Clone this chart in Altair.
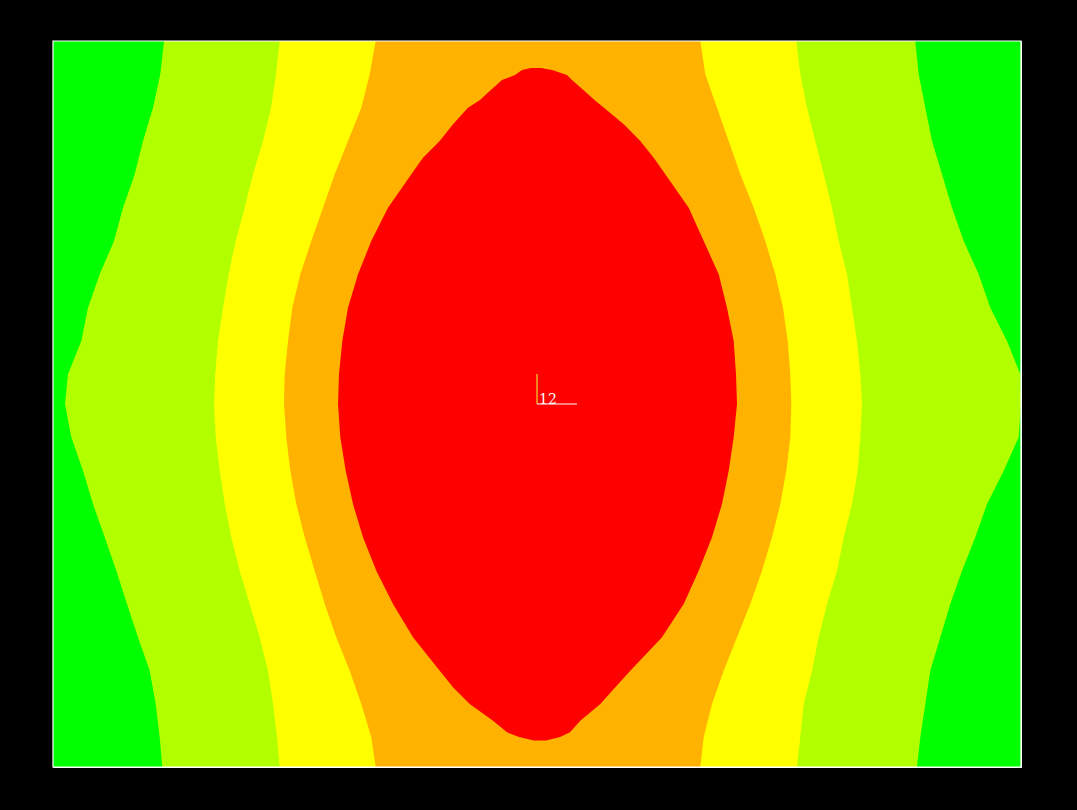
import altair as alt
import pandas as pd

# ---- data (plot-area coordinates: x 0..968 left->right, y 0..726 top->bottom) ----
X_RANGE = [0, 968]
Y_RANGE = [0, 726]

BAND_Y = [0, 33.3, 66.7, 100, 133.3, 166.7, 200, 233.3, 266.7, 300, 333.3, 363,
          396.3, 429.7, 463, 496.3, 529.7, 563, 596.3, 629.7, 663, 696.3, 726]

L1 = [111, 107.3, 100, 90, 81.7, 70, 61, 46.7, 35, 28.3, 15, 12,
      18.3, 30, 40, 51.7, 63.3, 74, 85, 96.7, 102.7, 106.7, 109.3]
R1 = [862.3, 865.7, 872.3, 879, 889, 899, 910.7, 925.7, 937.3, 954, 967.3, 968,
      965.7, 950.7, 934, 922.3, 909, 897.3, 887.3, 877.3, 872.3, 867.3, 864]
L2 = [226.7, 223, 218, 210, 200, 191.7, 182.7, 175.7, 170, 165, 162.3, 161,
      162.7, 166.7, 171.7, 178.3, 186.7, 196.7, 206.7, 215, 220, 224, 226.7]
R2 = [743.3, 747.3, 754, 762.3, 770.7, 779, 785.7, 794, 799, 804, 807.3, 809,
      807.3, 804.7, 799, 790.7, 784, 774, 765.7, 759, 750.7, 747.3, 744]
L3 = [322.7, 316.7, 308.3, 295, 281.7, 270, 258.3, 247.3, 239.3, 235, 231.7, 231,
      233.3, 237.3, 243.3, 251.7, 261.7, 271.7, 283.3, 296.7, 308.3, 318.3, 322.7]
R3 = [647.3, 652.3, 664, 675.7, 687.3, 700.7, 712.3, 722.3, 730, 734.7, 737.3, 738.3,
      737.3, 733.3, 727.3, 719, 709, 697.3, 684, 670.7, 659, 650.7, 647.3]

RED_Y = [27, 29, 34, 39, 50, 59, 66.7, 83.3, 100, 116.7, 133.3, 150, 166.7,
         200, 233.3, 266.7, 300, 333.3, 363, 396.3, 429.7, 463, 496.3, 529.7,
         563, 596.3, 629.7, 646.3, 663, 679.7, 691.3, 696, 699.5]
RED_L = [478, 469, 462, 449, 436.7, 427, 415, 400, 386.7, 370, 358.3, 346.7, 335,
         318.3, 305, 295, 289.3, 286, 285, 287.3, 292.7, 300, 310, 323.3,
         340, 360, 386.7, 400, 416.7, 440, 454, 466, 481]
RED_R = [488, 499, 514, 519, 531.5, 541.5, 551, 570.7, 587.3, 600.7, 612.3, 624, 635.7,
         650.7, 665.7, 674, 680.7, 683, 684, 680.7, 675.7, 669, 659, 645.7,
         630.7, 609, 577.3, 562.3, 547.3, 527.3, 517, 507, 493]

BAND_COLORS = ["#00ff00", "#b2ff00", "#ffff00", "#ffb200", "#ff0000"]

MARK_LABEL = ["12"]
MARK_X = [484]
MARK_Y = [363]
MARK_V_Y2 = [333]
MARK_H_X2 = [524]

# ---- build ----
xs = alt.Scale(domain=X_RANGE, nice=False, zero=False)
ys = alt.Scale(domain=Y_RANGE, nice=False, zero=False, reverse=True)

bands = [
    (pd.DataFrame({"y": Y_RANGE, "xl": [X_RANGE[0]] * 2, "xr": [X_RANGE[1]] * 2}), BAND_COLORS[0]),
    (pd.DataFrame({"y": BAND_Y, "xl": L1, "xr": R1}), BAND_COLORS[1]),
    (pd.DataFrame({"y": BAND_Y, "xl": L2, "xr": R2}), BAND_COLORS[2]),
    (pd.DataFrame({"y": BAND_Y, "xl": L3, "xr": R3}), BAND_COLORS[3]),
    (pd.DataFrame({"y": RED_Y, "xl": RED_L, "xr": RED_R}), BAND_COLORS[4]),
]

layers = []
for df, col in bands:
    layers.append(
        alt.Chart(df).mark_area(orient="horizontal", color=col, interpolate="linear",
                                clip=True, strokeWidth=0)
        .encode(
            y=alt.Y("y:Q", scale=ys, axis=None),
            x=alt.X("xl:Q", scale=xs, axis=None),
            x2="xr:Q",
        )
    )

frame = pd.DataFrame({"x": [X_RANGE[0]], "x2": [X_RANGE[1]], "y": [Y_RANGE[0]], "y2": [Y_RANGE[1]]})
border = alt.Chart(frame).mark_rect(fillOpacity=0, stroke="#ffffff", strokeWidth=1.2).encode(
    x=alt.X("x:Q", scale=xs, axis=None),
    x2="x2:Q",
    y=alt.Y("y:Q", scale=ys, axis=None),
    y2="y2:Q",
)

mk = pd.DataFrame({"label": MARK_LABEL, "x": MARK_X, "y": MARK_Y,
                   "y2": MARK_V_Y2, "x2": MARK_H_X2})

vrule = alt.Chart(mk).mark_rule(color="#e8ff40", strokeWidth=1).encode(
    x=alt.X("x:Q", scale=xs, axis=None),
    y=alt.Y("y:Q", scale=ys, axis=None),
    y2="y2:Q",
)
hrule = alt.Chart(mk).mark_rule(color="#ffffff", strokeWidth=1).encode(
    x=alt.X("x:Q", scale=xs, axis=None),
    x2="x2:Q",
    y=alt.Y("y:Q", scale=ys, axis=None),
)
label = alt.Chart(mk).mark_text(color="#ffffff", font="DejaVu Serif", fontSize=14,
                                align="left", baseline="alphabetic", dx=2, dy=0).encode(
    x=alt.X("x:Q", scale=xs, axis=None),
    y=alt.Y("y:Q", scale=ys, axis=None),
    text="label:N",
)

chart = alt.layer(*layers, border, vrule, hrule, label).properties(
    width=968,
    height=726,
    background="#000000",
    padding={"left": 53, "top": 41, "right": 56, "bottom": 43},
    autosize=alt.AutoSizeParams(type="none"),
).configure_view(stroke="#ffffff", strokeWidth=1)

chart.save("out.html", embed_options={"renderer": "svg", "actions": False})
